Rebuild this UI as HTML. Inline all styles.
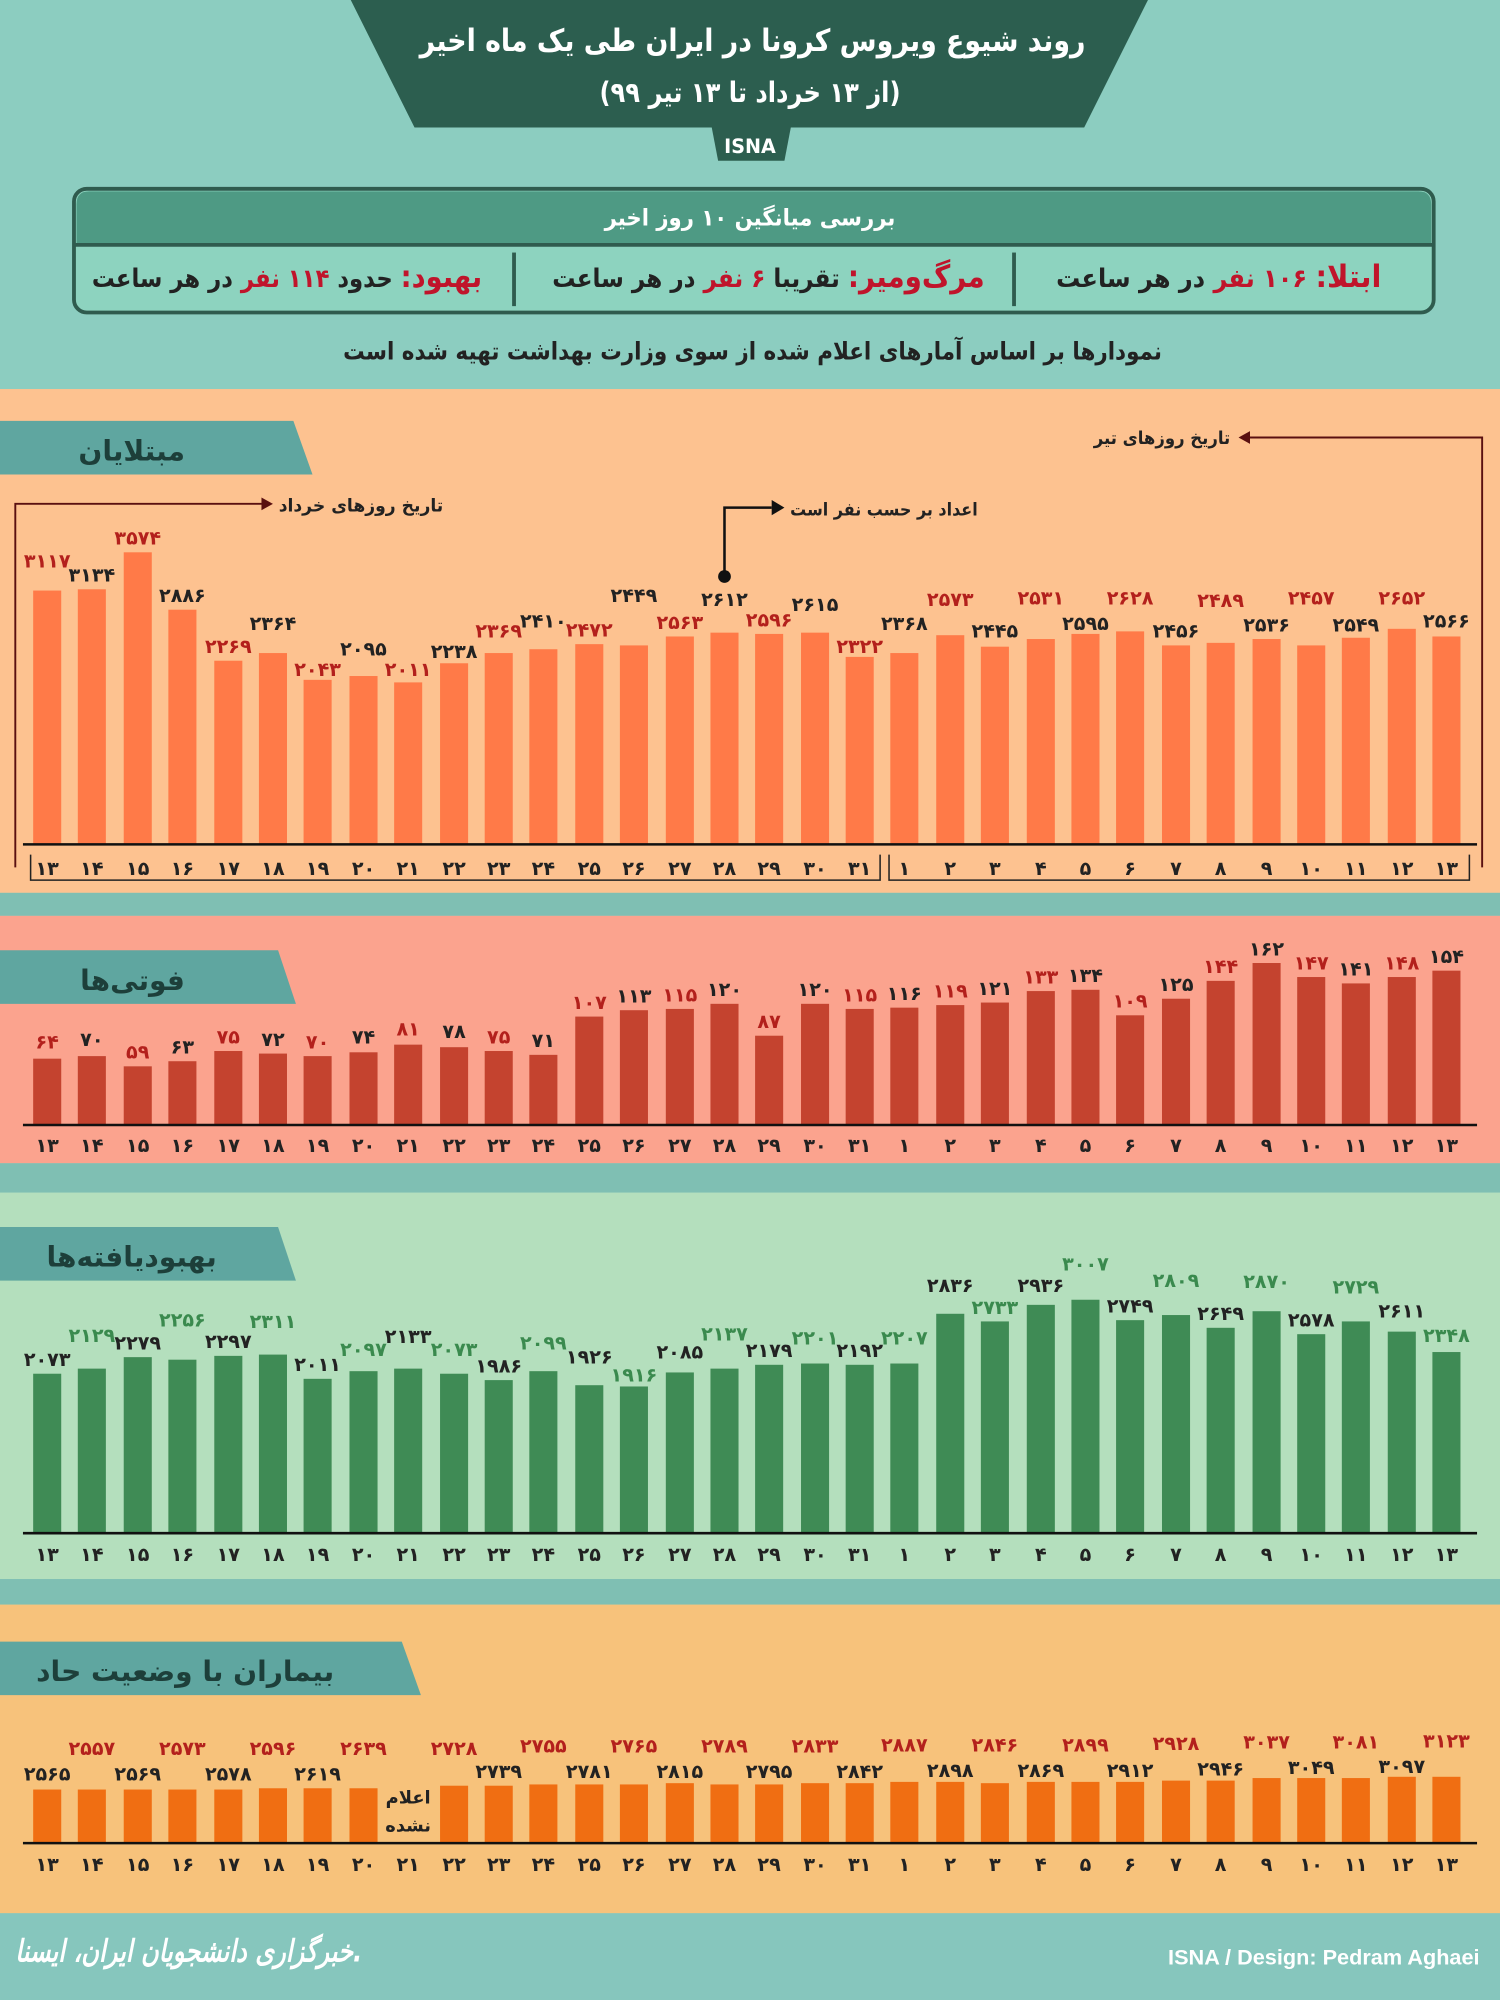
<!DOCTYPE html>
<html><head><meta charset="utf-8"><style>
html,body{margin:0;padding:0;width:1500px;height:2000px;overflow:hidden;background:#8fcfc4}
svg{display:block}
text{font-family:"DejaVu Sans","Liberation Sans","Noto Sans CJK SC",sans-serif;font-weight:bold}
.ax text{font-size:15px;fill:#222;text-anchor:middle}
.v{font-size:15px;text-anchor:middle}
</style></head><body>
<svg width="1500" height="2000" viewBox="0 0 1176 1568" xmlns="http://www.w3.org/2000/svg">
<rect x="0" y="0" width="1176" height="305" fill="#8ccdc0"/>
<rect x="0" y="305" width="1176" height="395" fill="#fdc290"/>
<rect x="0" y="700" width="1176" height="18" fill="#7fbfb3"/>
<rect x="0" y="718" width="1176" height="194" fill="#fba38e"/>
<rect x="0" y="912" width="1176" height="23" fill="#7fbfb3"/>
<rect x="0" y="935" width="1176" height="303" fill="#b4dfbd"/>
<rect x="0" y="1238" width="1176" height="20" fill="#7fbfb3"/>
<rect x="0" y="1258" width="1176" height="242" fill="#f7c27b"/>
<rect x="0" y="1500" width="1176" height="68" fill="#86c6bd"/>
<polygon points="275,0 900,0 850,100 325,100" fill="#2c5e4f"/>
<polygon points="558,100 620,100 615,126 563,126" fill="#2c5e4f"/>
<text x="588" y="120" font-size="15" fill="#fff" text-anchor="middle">ISNA</text>
<text x="590" y="40" font-size="24" fill="#fff" text-anchor="middle" textLength="522" lengthAdjust="spacingAndGlyphs">روند شیوع ویروس کرونا در ایران طی یک ماه اخیر</text>
<text x="588" y="80" font-size="22" fill="#fff" text-anchor="middle" textLength="236" lengthAdjust="spacingAndGlyphs">(از ۱۳ خرداد تا ۱۳ تیر ۹۹)</text>
<rect x="58" y="148" width="1066" height="97" rx="10" fill="#8dd3bf" stroke="#2f5b4e" stroke-width="3"/>
<path d="M60 192 L60 160 Q60 150 70 150 L1112 150 Q1122 150 1122 160 L1122 192 Z" fill="#4e9a84"/>
<line x1="58" y1="192" x2="1124" y2="192" stroke="#2f5b4e" stroke-width="3"/>
<text x="588" y="177" font-size="18" fill="#fff" text-anchor="middle" textLength="228" lengthAdjust="spacingAndGlyphs">بررسی میانگین ۱۰ روز اخیر</text>
<line x1="403" y1="198" x2="403" y2="240" stroke="#2f5b4e" stroke-width="3"/>
<line x1="795" y1="198" x2="795" y2="240" stroke="#2f5b4e" stroke-width="3"/>
<text x="1083" y="225" font-size="20" fill="#222" text-anchor="start" direction="rtl" textLength="255" lengthAdjust="spacingAndGlyphs"><tspan fill="#c0142b" font-size="24">ابتلا:</tspan>  <tspan fill="#c0142b">۱۰۶ نفر</tspan> در هر ساعت</text>
<text x="772" y="225" font-size="20" fill="#222" text-anchor="start" direction="rtl" textLength="339" lengthAdjust="spacingAndGlyphs"><tspan fill="#c0142b" font-size="24">مرگ‌ومیر:</tspan>  تقریبا <tspan fill="#c0142b">۶ نفر</tspan> در هر ساعت</text>
<text x="378" y="225" font-size="20" fill="#222" text-anchor="start" direction="rtl" textLength="306" lengthAdjust="spacingAndGlyphs"><tspan fill="#c0142b" font-size="24">بهبود:</tspan>  حدود <tspan fill="#c0142b">۱۱۴ نفر</tspan> در هر ساعت</text>
<text x="590" y="282" font-size="19" fill="#222" text-anchor="middle" textLength="642" lengthAdjust="spacingAndGlyphs">نمودارها بر اساس آمارهای اعلام شده از سوی وزارت بهداشت تهیه شده است</text>

<polygon points="0,330 230,330 245,372 0,372" fill="#5fa6a0"/>
<text x="145" y="361" font-size="22" fill="#1d3f3a" text-anchor="end">مبتلایان</text>
<polygon points="0,745 218,745 232,787 0,787" fill="#5fa6a0"/>
<text x="145" y="776" font-size="22" fill="#1d3f3a" text-anchor="end">فوتی‌ها</text>
<polygon points="0,962 218,962 232,1004 0,1004" fill="#5fa6a0"/>
<text x="170" y="993" font-size="22" fill="#1d3f3a" text-anchor="end">بهبودیافته‌ها</text>
<polygon points="0,1287 315,1287 330,1329 0,1329" fill="#5fa6a0"/>
<text x="262" y="1318" font-size="22" fill="#1d3f3a" text-anchor="end">بیماران با وضعیت حاد</text>

<polyline points="12,680 12,395 205,395" fill="none" stroke="#5a1010" stroke-width="1.5"/>
<polygon points="205,390 214,395 205,400" fill="#5a1010"/>
<text x="283" y="401" font-size="14" fill="#222" text-anchor="middle" textLength="129" lengthAdjust="spacingAndGlyphs">تاریخ روزهای خرداد</text>
<polyline points="1162,680 1162,343 980,343" fill="none" stroke="#5a1010" stroke-width="1.5"/>
<polygon points="980,338 971,343 980,348" fill="#5a1010"/>
<text x="911" y="348" font-size="14" fill="#222" text-anchor="middle" textLength="107" lengthAdjust="spacingAndGlyphs">تاریخ روزهای تیر</text>
<polyline points="568,452 568,398 605,398" fill="none" stroke="#111" stroke-width="2"/>
<polygon points="605,392 615,398 605,404" fill="#111"/>
<circle cx="568" cy="452" r="5" fill="#111"/>
<text x="693" y="404" font-size="14" fill="#222" text-anchor="middle" textLength="147" lengthAdjust="spacingAndGlyphs">اعداد بر حسب نفر است</text>
<polyline points="24,670 24,690 690,690 690,670" fill="none" stroke="#222" stroke-width="1.2"/>
<polyline points="697,670 697,690 1152,690 1152,670" fill="none" stroke="#222" stroke-width="1.2"/>

<g fill="#ff7a48">
<rect x="26" y="463" width="22" height="199"/><rect x="61" y="462" width="22" height="200"/><rect x="97" y="433" width="22" height="229"/><rect x="132" y="478" width="22" height="184"/><rect x="168" y="518" width="22" height="144"/><rect x="203" y="512" width="22" height="150"/><rect x="238" y="533" width="22" height="129"/><rect x="274" y="530" width="22" height="132"/><rect x="309" y="535" width="22" height="127"/><rect x="345" y="520" width="22" height="142"/><rect x="380" y="512" width="22" height="150"/><rect x="415" y="509" width="22" height="153"/><rect x="451" y="505" width="22" height="157"/><rect x="486" y="506" width="22" height="156"/><rect x="522" y="499" width="22" height="163"/><rect x="557" y="496" width="22" height="166"/><rect x="592" y="497" width="22" height="165"/><rect x="628" y="496" width="22" height="166"/><rect x="663" y="515" width="22" height="147"/><rect x="698" y="512" width="22" height="150"/><rect x="734" y="498" width="22" height="164"/><rect x="769" y="507" width="22" height="155"/><rect x="805" y="501" width="22" height="161"/><rect x="840" y="497" width="22" height="165"/><rect x="875" y="495" width="22" height="167"/><rect x="911" y="506" width="22" height="156"/><rect x="946" y="504" width="22" height="158"/><rect x="982" y="501" width="22" height="161"/><rect x="1017" y="506" width="22" height="156"/><rect x="1052" y="500" width="22" height="162"/><rect x="1088" y="493" width="22" height="169"/><rect x="1123" y="499" width="22" height="163"/>
</g>
<g class="v">
<text x="37" y="445" fill="#b3201c">۳۱۱۷</text><text x="72" y="456" fill="#222">۳۱۳۴</text><text x="108" y="427" fill="#b3201c">۳۵۷۴</text><text x="143" y="472" fill="#222">۲۸۸۶</text><text x="179" y="512" fill="#b3201c">۲۲۶۹</text><text x="214" y="494" fill="#222">۲۳۶۴</text><text x="249" y="530" fill="#b3201c">۲۰۴۳</text><text x="285" y="514" fill="#222">۲۰۹۵</text><text x="320" y="530" fill="#b3201c">۲۰۱۱</text><text x="356" y="516" fill="#222">۲۲۳۸</text><text x="391" y="500" fill="#b3201c">۲۳۶۹</text><text x="426" y="492" fill="#222">۲۴۱۰</text><text x="462" y="499" fill="#b3201c">۲۴۷۲</text><text x="497" y="472" fill="#222">۲۴۴۹</text><text x="533" y="493" fill="#b3201c">۲۵۶۳</text><text x="568" y="475" fill="#222">۲۶۱۲</text><text x="603" y="491" fill="#b3201c">۲۵۹۶</text><text x="639" y="479" fill="#222">۲۶۱۵</text><text x="674" y="512" fill="#b3201c">۲۳۲۲</text><text x="709" y="494" fill="#222">۲۳۶۸</text><text x="745" y="475" fill="#b3201c">۲۵۷۳</text><text x="780" y="500" fill="#222">۲۴۴۵</text><text x="816" y="474" fill="#b3201c">۲۵۳۱</text><text x="851" y="494" fill="#222">۲۵۹۵</text><text x="886" y="474" fill="#b3201c">۲۶۲۸</text><text x="922" y="500" fill="#222">۲۴۵۶</text><text x="957" y="476" fill="#b3201c">۲۴۸۹</text><text x="993" y="495" fill="#222">۲۵۳۶</text><text x="1028" y="474" fill="#b3201c">۲۴۵۷</text><text x="1063" y="495" fill="#222">۲۵۴۹</text><text x="1099" y="474" fill="#b3201c">۲۶۵۲</text><text x="1134" y="492" fill="#222">۲۵۶۶</text>
</g>
<line x1="18" y1="662" x2="1158" y2="662" stroke="#111" stroke-width="2"/>
<g class="ax" transform="translate(0,686)">
<text x="37">۱۳</text><text x="72">۱۴</text><text x="108">۱۵</text><text x="143">۱۶</text><text x="179">۱۷</text><text x="214">۱۸</text><text x="249">۱۹</text><text x="285">۲۰</text><text x="320">۲۱</text><text x="356">۲۲</text><text x="391">۲۳</text><text x="426">۲۴</text><text x="462">۲۵</text><text x="497">۲۶</text><text x="533">۲۷</text><text x="568">۲۸</text><text x="603">۲۹</text><text x="639">۳۰</text><text x="674">۳۱</text><text x="709">۱</text><text x="745">۲</text><text x="780">۳</text><text x="816">۴</text><text x="851">۵</text><text x="886">۶</text><text x="922">۷</text><text x="957">۸</text><text x="993">۹</text><text x="1028">۱۰</text><text x="1063">۱۱</text><text x="1099">۱۲</text><text x="1134">۱۳</text>
</g>

<g fill="#c4432f">
<rect x="26" y="830" width="22" height="52"/><rect x="61" y="828" width="22" height="54"/><rect x="97" y="836" width="22" height="46"/><rect x="132" y="832" width="22" height="50"/><rect x="168" y="824" width="22" height="58"/><rect x="203" y="826" width="22" height="56"/><rect x="238" y="828" width="22" height="54"/><rect x="274" y="825" width="22" height="57"/><rect x="309" y="819" width="22" height="63"/><rect x="345" y="821" width="22" height="61"/><rect x="380" y="824" width="22" height="58"/><rect x="415" y="827" width="22" height="55"/><rect x="451" y="797" width="22" height="85"/><rect x="486" y="792" width="22" height="90"/><rect x="522" y="791" width="22" height="91"/><rect x="557" y="787" width="22" height="95"/><rect x="592" y="812" width="22" height="70"/><rect x="628" y="787" width="22" height="95"/><rect x="663" y="791" width="22" height="91"/><rect x="698" y="790" width="22" height="92"/><rect x="734" y="788" width="22" height="94"/><rect x="769" y="786" width="22" height="96"/><rect x="805" y="777" width="22" height="105"/><rect x="840" y="776" width="22" height="106"/><rect x="875" y="796" width="22" height="86"/><rect x="911" y="783" width="22" height="99"/><rect x="946" y="769" width="22" height="113"/><rect x="982" y="755" width="22" height="127"/><rect x="1017" y="766" width="22" height="116"/><rect x="1052" y="771" width="22" height="111"/><rect x="1088" y="766" width="22" height="116"/><rect x="1123" y="761" width="22" height="121"/>
</g>
<g class="v">
<text x="37" y="822" fill="#b3201c">۶۴</text><text x="72" y="820" fill="#222">۷۰</text><text x="108" y="830" fill="#b3201c">۵۹</text><text x="143" y="826" fill="#222">۶۳</text><text x="179" y="818" fill="#b3201c">۷۵</text><text x="214" y="820" fill="#222">۷۲</text><text x="249" y="822" fill="#b3201c">۷۰</text><text x="285" y="818" fill="#222">۷۴</text><text x="320" y="812" fill="#b3201c">۸۱</text><text x="356" y="814" fill="#222">۷۸</text><text x="391" y="818" fill="#b3201c">۷۵</text><text x="426" y="821" fill="#222">۷۱</text><text x="462" y="791" fill="#b3201c">۱۰۷</text><text x="497" y="786" fill="#222">۱۱۳</text><text x="533" y="785" fill="#b3201c">۱۱۵</text><text x="568" y="781" fill="#222">۱۲۰</text><text x="603" y="806" fill="#b3201c">۸۷</text><text x="639" y="781" fill="#222">۱۲۰</text><text x="674" y="785" fill="#b3201c">۱۱۵</text><text x="709" y="784" fill="#222">۱۱۶</text><text x="745" y="782" fill="#b3201c">۱۱۹</text><text x="780" y="780" fill="#222">۱۲۱</text><text x="816" y="771" fill="#b3201c">۱۳۳</text><text x="851" y="770" fill="#222">۱۳۴</text><text x="886" y="790" fill="#b3201c">۱۰۹</text><text x="922" y="777" fill="#222">۱۲۵</text><text x="957" y="763" fill="#b3201c">۱۴۴</text><text x="993" y="749" fill="#222">۱۶۲</text><text x="1028" y="760" fill="#b3201c">۱۴۷</text><text x="1063" y="765" fill="#222">۱۴۱</text><text x="1099" y="760" fill="#b3201c">۱۴۸</text><text x="1134" y="755" fill="#222">۱۵۴</text>
</g>
<line x1="18" y1="882" x2="1158" y2="882" stroke="#111" stroke-width="2"/>
<g class="ax" transform="translate(0,903)">
<text x="37">۱۳</text><text x="72">۱۴</text><text x="108">۱۵</text><text x="143">۱۶</text><text x="179">۱۷</text><text x="214">۱۸</text><text x="249">۱۹</text><text x="285">۲۰</text><text x="320">۲۱</text><text x="356">۲۲</text><text x="391">۲۳</text><text x="426">۲۴</text><text x="462">۲۵</text><text x="497">۲۶</text><text x="533">۲۷</text><text x="568">۲۸</text><text x="603">۲۹</text><text x="639">۳۰</text><text x="674">۳۱</text><text x="709">۱</text><text x="745">۲</text><text x="780">۳</text><text x="816">۴</text><text x="851">۵</text><text x="886">۶</text><text x="922">۷</text><text x="957">۸</text><text x="993">۹</text><text x="1028">۱۰</text><text x="1063">۱۱</text><text x="1099">۱۲</text><text x="1134">۱۳</text>
</g>

<g fill="#3f8b55">
<rect x="26" y="1077" width="22" height="125"/><rect x="61" y="1073" width="22" height="129"/><rect x="97" y="1064" width="22" height="138"/><rect x="132" y="1066" width="22" height="136"/><rect x="168" y="1063" width="22" height="139"/><rect x="203" y="1062" width="22" height="140"/><rect x="238" y="1081" width="22" height="121"/><rect x="274" y="1075" width="22" height="127"/><rect x="309" y="1073" width="22" height="129"/><rect x="345" y="1077" width="22" height="125"/><rect x="380" y="1082" width="22" height="120"/><rect x="415" y="1075" width="22" height="127"/><rect x="451" y="1086" width="22" height="116"/><rect x="486" y="1087" width="22" height="115"/><rect x="522" y="1076" width="22" height="126"/><rect x="557" y="1073" width="22" height="129"/><rect x="592" y="1070" width="22" height="132"/><rect x="628" y="1069" width="22" height="133"/><rect x="663" y="1070" width="22" height="132"/><rect x="698" y="1069" width="22" height="133"/><rect x="734" y="1030" width="22" height="172"/><rect x="769" y="1036" width="22" height="166"/><rect x="805" y="1023" width="22" height="179"/><rect x="840" y="1019" width="22" height="183"/><rect x="875" y="1035" width="22" height="167"/><rect x="911" y="1031" width="22" height="171"/><rect x="946" y="1041" width="22" height="161"/><rect x="982" y="1028" width="22" height="174"/><rect x="1017" y="1046" width="22" height="156"/><rect x="1052" y="1036" width="22" height="166"/><rect x="1088" y="1044" width="22" height="158"/><rect x="1123" y="1060" width="22" height="142"/>
</g>
<g class="v">
<text x="37" y="1071" fill="#222">۲۰۷۳</text><text x="72" y="1052" fill="#3a8a4e">۲۱۲۹</text><text x="108" y="1058" fill="#222">۲۲۷۹</text><text x="143" y="1040" fill="#3a8a4e">۲۲۵۶</text><text x="179" y="1057" fill="#222">۲۲۹۷</text><text x="214" y="1041" fill="#3a8a4e">۲۳۱۱</text><text x="249" y="1075" fill="#222">۲۰۱۱</text><text x="285" y="1063" fill="#3a8a4e">۲۰۹۷</text><text x="320" y="1053" fill="#222">۲۱۳۳</text><text x="356" y="1063" fill="#3a8a4e">۲۰۷۳</text><text x="391" y="1076" fill="#222">۱۹۸۶</text><text x="426" y="1058" fill="#3a8a4e">۲۰۹۹</text><text x="462" y="1069" fill="#222">۱۹۲۶</text><text x="497" y="1083" fill="#3a8a4e">۱۹۱۶</text><text x="533" y="1065" fill="#222">۲۰۸۵</text><text x="568" y="1051" fill="#3a8a4e">۲۱۳۷</text><text x="603" y="1064" fill="#222">۲۱۷۹</text><text x="639" y="1054" fill="#3a8a4e">۲۲۰۱</text><text x="674" y="1064" fill="#222">۲۱۹۲</text><text x="709" y="1054" fill="#3a8a4e">۲۲۰۷</text><text x="745" y="1013" fill="#222">۲۸۳۶</text><text x="780" y="1030" fill="#3a8a4e">۲۷۳۳</text><text x="816" y="1013" fill="#222">۲۹۳۶</text><text x="851" y="996" fill="#3a8a4e">۳۰۰۷</text><text x="886" y="1029" fill="#222">۲۷۴۹</text><text x="922" y="1009" fill="#3a8a4e">۲۸۰۹</text><text x="957" y="1035" fill="#222">۲۶۴۹</text><text x="993" y="1010" fill="#3a8a4e">۲۸۷۰</text><text x="1028" y="1040" fill="#222">۲۵۷۸</text><text x="1063" y="1014" fill="#3a8a4e">۲۷۲۹</text><text x="1099" y="1033" fill="#222">۲۶۱۱</text><text x="1134" y="1052" fill="#3a8a4e">۲۳۴۸</text>
</g>
<line x1="18" y1="1202" x2="1158" y2="1202" stroke="#111" stroke-width="2"/>
<g class="ax" transform="translate(0,1224)">
<text x="37">۱۳</text><text x="72">۱۴</text><text x="108">۱۵</text><text x="143">۱۶</text><text x="179">۱۷</text><text x="214">۱۸</text><text x="249">۱۹</text><text x="285">۲۰</text><text x="320">۲۱</text><text x="356">۲۲</text><text x="391">۲۳</text><text x="426">۲۴</text><text x="462">۲۵</text><text x="497">۲۶</text><text x="533">۲۷</text><text x="568">۲۸</text><text x="603">۲۹</text><text x="639">۳۰</text><text x="674">۳۱</text><text x="709">۱</text><text x="745">۲</text><text x="780">۳</text><text x="816">۴</text><text x="851">۵</text><text x="886">۶</text><text x="922">۷</text><text x="957">۸</text><text x="993">۹</text><text x="1028">۱۰</text><text x="1063">۱۱</text><text x="1099">۱۲</text><text x="1134">۱۳</text>
</g>

<g fill="#f06e12">
<rect x="26" y="1403" width="22" height="42"/><rect x="61" y="1403" width="22" height="42"/><rect x="97" y="1403" width="22" height="42"/><rect x="132" y="1403" width="22" height="42"/><rect x="168" y="1403" width="22" height="42"/><rect x="203" y="1402" width="22" height="43"/><rect x="238" y="1402" width="22" height="43"/><rect x="274" y="1402" width="22" height="43"/><rect x="345" y="1400" width="22" height="45"/><rect x="380" y="1400" width="22" height="45"/><rect x="415" y="1399" width="22" height="46"/><rect x="451" y="1399" width="22" height="46"/><rect x="486" y="1399" width="22" height="46"/><rect x="522" y="1398" width="22" height="47"/><rect x="557" y="1399" width="22" height="46"/><rect x="592" y="1399" width="22" height="46"/><rect x="628" y="1398" width="22" height="47"/><rect x="663" y="1398" width="22" height="47"/><rect x="698" y="1397" width="22" height="48"/><rect x="734" y="1397" width="22" height="48"/><rect x="769" y="1398" width="22" height="47"/><rect x="805" y="1397" width="22" height="48"/><rect x="840" y="1397" width="22" height="48"/><rect x="875" y="1397" width="22" height="48"/><rect x="911" y="1396" width="22" height="49"/><rect x="946" y="1396" width="22" height="49"/><rect x="982" y="1394" width="22" height="51"/><rect x="1017" y="1394" width="22" height="51"/><rect x="1052" y="1394" width="22" height="51"/><rect x="1088" y="1393" width="22" height="52"/><rect x="1123" y="1393" width="22" height="52"/>
</g>
<g class="v">
<text x="37" y="1396" fill="#222">۲۵۶۵</text><text x="72" y="1376" fill="#b3201c">۲۵۵۷</text><text x="108" y="1396" fill="#222">۲۵۶۹</text><text x="143" y="1376" fill="#b3201c">۲۵۷۳</text><text x="179" y="1396" fill="#222">۲۵۷۸</text><text x="214" y="1376" fill="#b3201c">۲۵۹۶</text><text x="249" y="1396" fill="#222">۲۶۱۹</text><text x="285" y="1376" fill="#b3201c">۲۶۳۹</text><text x="356" y="1376" fill="#b3201c">۲۷۲۸</text><text x="391" y="1394" fill="#222">۲۷۳۹</text><text x="426" y="1374" fill="#b3201c">۲۷۵۵</text><text x="462" y="1394" fill="#222">۲۷۸۱</text><text x="497" y="1374" fill="#b3201c">۲۷۶۵</text><text x="533" y="1394" fill="#222">۲۸۱۵</text><text x="568" y="1374" fill="#b3201c">۲۷۸۹</text><text x="603" y="1394" fill="#222">۲۷۹۵</text><text x="639" y="1374" fill="#b3201c">۲۸۳۳</text><text x="674" y="1394" fill="#222">۲۸۴۲</text><text x="709" y="1373" fill="#b3201c">۲۸۸۷</text><text x="745" y="1393" fill="#222">۲۸۹۸</text><text x="780" y="1373" fill="#b3201c">۲۸۴۶</text><text x="816" y="1393" fill="#222">۲۸۶۹</text><text x="851" y="1373" fill="#b3201c">۲۸۹۹</text><text x="886" y="1393" fill="#222">۲۹۱۲</text><text x="922" y="1372" fill="#b3201c">۲۹۲۸</text><text x="957" y="1392" fill="#222">۲۹۴۶</text><text x="993" y="1371" fill="#b3201c">۳۰۳۷</text><text x="1028" y="1391" fill="#222">۳۰۴۹</text><text x="1063" y="1371" fill="#b3201c">۳۰۸۱</text><text x="1099" y="1390" fill="#222">۳۰۹۷</text><text x="1134" y="1370" fill="#b3201c">۳۱۲۳</text>
<text x="320" y="1414" fill="#222" font-size="14">اعلام</text><text x="320" y="1436" fill="#222" font-size="14">نشده</text>
</g>
<line x1="18" y1="1445" x2="1158" y2="1445" stroke="#111" stroke-width="2"/>
<g class="ax" transform="translate(0,1467)">
<text x="37">۱۳</text><text x="72">۱۴</text><text x="108">۱۵</text><text x="143">۱۶</text><text x="179">۱۷</text><text x="214">۱۸</text><text x="249">۱۹</text><text x="285">۲۰</text><text x="320">۲۱</text><text x="356">۲۲</text><text x="391">۲۳</text><text x="426">۲۴</text><text x="462">۲۵</text><text x="497">۲۶</text><text x="533">۲۷</text><text x="568">۲۸</text><text x="603">۲۹</text><text x="639">۳۰</text><text x="674">۳۱</text><text x="709">۱</text><text x="745">۲</text><text x="780">۳</text><text x="816">۴</text><text x="851">۵</text><text x="886">۶</text><text x="922">۷</text><text x="957">۸</text><text x="993">۹</text><text x="1028">۱۰</text><text x="1063">۱۱</text><text x="1099">۱۲</text><text x="1134">۱۳</text>
</g>

<text x="148" y="1538" font-size="24" fill="#fff" text-anchor="middle" font-style="italic" textLength="272" lengthAdjust="spacingAndGlyphs">خبرگزاری دانشجویان ایران، ایسنا.</text>
<text x="1160" y="1540" font-size="17" fill="#fff" text-anchor="end" style="font-family:'Liberation Sans',sans-serif">ISNA / Design: Pedram Aghaei</text>
</svg>
</body></html>
